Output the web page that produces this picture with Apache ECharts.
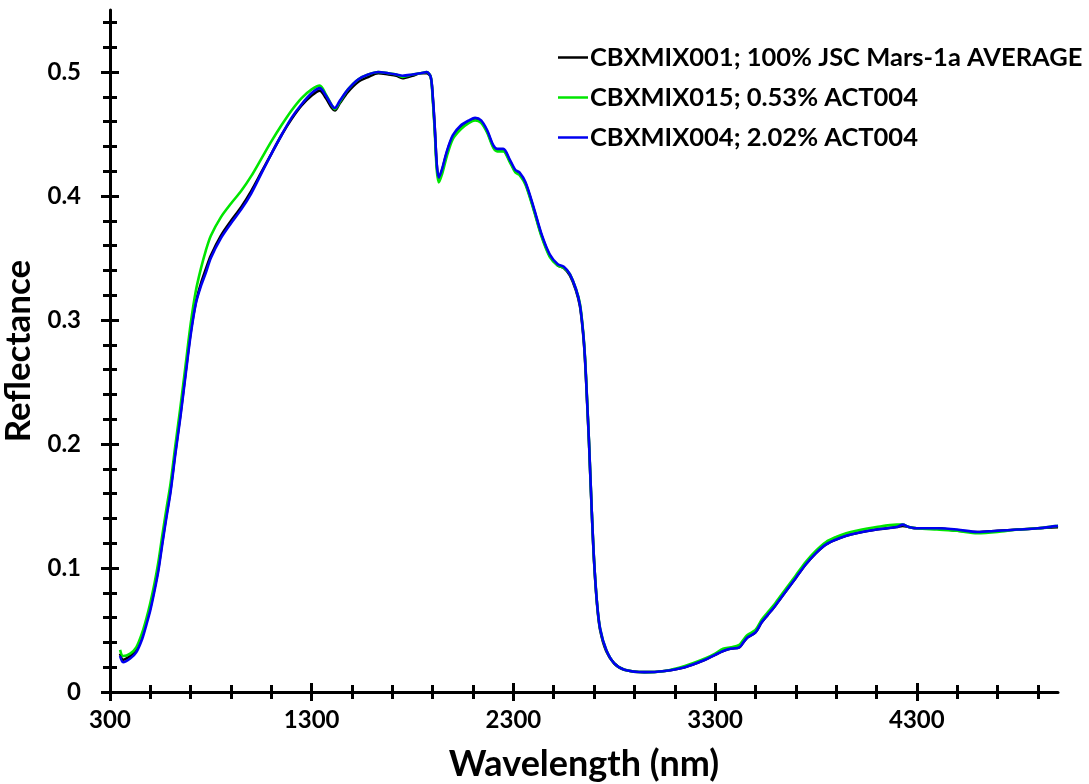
<!DOCTYPE html>
<html>
<head>
<meta charset="utf-8">
<title>Reflectance spectra</title>
<script src="https://cdn.jsdelivr.net/npm/echarts@6/dist/echarts.min.js"></script>
<style>
  html, body { margin: 0; padding: 0; background: #fff; }
  #chart { width: 1089px; height: 784px; }
</style>
</head>
<body>
<div id="chart"></div>
<script>
// Wavelength samples (nm) shared by all three spectra
const wavelengths = [
  350, 365, 400, 430, 460, 480, 500, 520, 540, 560, 580, 600, 625, 650, 675, 700, 725, 750, 775, 800,
  850, 900, 950, 1000, 1050, 1100, 1150, 1200, 1250, 1300, 1340, 1370, 1400, 1415, 1440, 1480, 1530, 1580, 1630, 1680,
  1720, 1750, 1800, 1840, 1870, 1890, 1900, 1910, 1920, 1930, 1945, 1970, 2000, 2040, 2080, 2110, 2140, 2170, 2200, 2220,
  2250, 2280, 2310, 2330, 2360, 2400, 2440, 2480, 2520, 2550, 2580, 2610, 2630, 2645, 2655, 2665, 2675, 2688, 2700, 2715,
  2730, 2760, 2800, 2850, 2950, 3050, 3150, 3250, 3300, 3340, 3380, 3420, 3440, 3460, 3500, 3530, 3560, 3600, 3650, 3700,
  3750, 3800, 3850, 3900, 3950, 4000, 4100, 4200, 4230, 4260, 4300, 4400, 4500, 4600, 4700, 4800, 4900, 5000
];

// CBXMIX001; 100% JSC Mars-1a AVERAGE
const mix001 = [
  0.031, 0.026, 0.029, 0.034, 0.045, 0.056, 0.068, 0.083, 0.100, 0.122, 0.143, 0.163, 0.195, 0.225, 0.258, 0.290, 0.314, 0.329, 0.341, 0.352,
  0.368, 0.380, 0.391, 0.404, 0.419, 0.434, 0.449, 0.462, 0.473, 0.481, 0.485, 0.479, 0.471, 0.469, 0.475, 0.484, 0.492, 0.496, 0.499, 0.498,
  0.497, 0.495, 0.497, 0.499, 0.499, 0.496, 0.480, 0.455, 0.425, 0.414, 0.420, 0.435, 0.448, 0.456, 0.460, 0.462, 0.460, 0.452, 0.440, 0.437,
  0.437, 0.429, 0.420, 0.418, 0.410, 0.390, 0.368, 0.352, 0.344, 0.342, 0.336, 0.324, 0.311, 0.290, 0.268, 0.235, 0.200, 0.147, 0.105, 0.070,
  0.050, 0.033, 0.023, 0.018, 0.016, 0.017, 0.020, 0.026, 0.030, 0.033, 0.035, 0.036, 0.040, 0.044, 0.048, 0.056, 0.062, 0.070, 0.081, 0.092,
  0.103, 0.112, 0.119, 0.123, 0.126, 0.128, 0.131, 0.133, 0.134, 0.133, 0.132, 0.132, 0.130, 0.129, 0.130, 0.131, 0.132, 0.133
];

// CBXMIX015; 0.53% ACT004
const mix015 = [
  0.034, 0.029, 0.031, 0.036, 0.048, 0.059, 0.072, 0.087, 0.105, 0.127, 0.148, 0.168, 0.200, 0.231, 0.264, 0.297, 0.323, 0.341, 0.356, 0.368,
  0.383, 0.394, 0.404, 0.416, 0.430, 0.444, 0.457, 0.469, 0.479, 0.486, 0.489, 0.482, 0.473, 0.470, 0.476, 0.486, 0.494, 0.498, 0.500, 0.499,
  0.498, 0.496, 0.498, 0.499, 0.500, 0.496, 0.478, 0.452, 0.421, 0.411, 0.417, 0.432, 0.446, 0.454, 0.459, 0.461, 0.459, 0.451, 0.439, 0.436,
  0.436, 0.428, 0.419, 0.417, 0.409, 0.389, 0.367, 0.351, 0.344, 0.342, 0.337, 0.325, 0.313, 0.292, 0.270, 0.237, 0.201, 0.148, 0.106, 0.071,
  0.051, 0.034, 0.023, 0.018, 0.016, 0.017, 0.021, 0.027, 0.031, 0.035, 0.036, 0.038, 0.042, 0.046, 0.050, 0.058, 0.064, 0.072, 0.083, 0.094,
  0.105, 0.114, 0.121, 0.125, 0.128, 0.130, 0.133, 0.135, 0.135, 0.133, 0.132, 0.131, 0.130, 0.128, 0.129, 0.131, 0.132, 0.134
];

// CBXMIX004; 2.02% ACT004
const mix004 = [
  0.029, 0.024, 0.027, 0.032, 0.043, 0.054, 0.066, 0.081, 0.098, 0.120, 0.141, 0.161, 0.193, 0.223, 0.256, 0.288, 0.313, 0.327, 0.338, 0.350,
  0.366, 0.378, 0.389, 0.402, 0.418, 0.434, 0.449, 0.463, 0.474, 0.483, 0.487, 0.481, 0.473, 0.471, 0.477, 0.486, 0.494, 0.498, 0.500, 0.499,
  0.498, 0.497, 0.498, 0.499, 0.500, 0.496, 0.481, 0.456, 0.426, 0.415, 0.421, 0.436, 0.449, 0.457, 0.461, 0.463, 0.461, 0.453, 0.441, 0.438,
  0.438, 0.430, 0.421, 0.419, 0.411, 0.391, 0.369, 0.353, 0.345, 0.343, 0.337, 0.325, 0.312, 0.291, 0.269, 0.236, 0.201, 0.148, 0.106, 0.071,
  0.051, 0.034, 0.023, 0.018, 0.016, 0.017, 0.020, 0.026, 0.030, 0.033, 0.035, 0.036, 0.040, 0.044, 0.048, 0.056, 0.062, 0.070, 0.081, 0.092,
  0.103, 0.112, 0.119, 0.123, 0.126, 0.128, 0.131, 0.133, 0.135, 0.133, 0.132, 0.132, 0.131, 0.129, 0.130, 0.131, 0.132, 0.134
];

const seriesNames = [
  'CBXMIX001; 100% JSC Mars-1a AVERAGE',
  'CBXMIX015; 0.53% ACT004',
  'CBXMIX004; 2.02% ACT004'
];
const seriesColors = ['#000000', '#00e600', '#0000f0'];

// Tick positions
const xMajorTicks = [300, 1300, 2300, 3300, 4300];
const xMinorTicks = [500, 700, 900, 1100, 1500, 1700, 1900, 2100, 2500, 2700, 2900, 3100, 3500, 3700, 3900, 4100, 4500, 4700, 4900];
const yMajorTicks = [0, 0.1, 0.2, 0.3, 0.4, 0.5];
const yMinorTicks = [0.02, 0.04, 0.06, 0.08, 0.12, 0.14, 0.16, 0.18, 0.22, 0.24, 0.26, 0.28, 0.32, 0.34, 0.36, 0.38,
                     0.42, 0.44, 0.46, 0.48, 0.52, 0.54];

const FONT = 'Lato';
const X_MIN = 300, X_MAX = 5000, Y_MIN = 0, Y_MAX = 0.55;

function pairs(ys) {
  return wavelengths.map((w, i) => [w, ys[i]]);
}

// An axis that only contributes one set of ticks (outside or inside of the line)
function tickAxis(kind, values, len, inside) {
  return {
    type: 'value',
    min: kind === 'x' ? X_MIN : Y_MIN,
    max: kind === 'x' ? X_MAX : Y_MAX,
    position: kind === 'x' ? 'bottom' : 'left',
    offset: 0,
    axisLine: { show: false },
    axisTick: { show: true, inside: inside, length: len, customValues: values,
                lineStyle: { color: '#000', width: 3 } },
    axisLabel: { show: false },
    splitLine: { show: false }
  };
}

const chart = echarts.init(document.getElementById('chart'), null, { renderer: 'canvas' });

chart.setOption({
  backgroundColor: '#ffffff',
  animation: false,
  textStyle: { fontFamily: FONT },
  grid: { left: 110, right: 31, top: 10, bottom: 92, containLabel: false, outerBoundsMode: 'none' },
  legend: {
    orient: 'vertical',
    left: 553,
    top: 38,
    icon: 'rect',
    itemWidth: 30,
    itemHeight: 2.5,
    itemGap: 11,
    textStyle: { fontFamily: FONT, fontWeight: 'bold', fontSize: 25.5, color: '#000', lineHeight: 29, padding: [0, 0, 0, -3] },
    data: seriesNames
  },
  xAxis: [
    {
      type: 'value',
      min: X_MIN,
      max: X_MAX,
      position: 'bottom',
      name: 'Wavelength (nm)',
      nameLocation: 'middle',
      nameGap: 54,
      nameTextStyle: { fontFamily: FONT, fontWeight: 'bold', fontSize: 36, color: '#000' },
      axisLine: { show: true, onZero: false, lineStyle: { color: '#000', width: 3 } },
      axisTick: { show: true, length: 9, customValues: xMajorTicks, lineStyle: { color: '#000', width: 3 } },
      axisLabel: { show: true, customValues: xMajorTicks, margin: 16, fontFamily: FONT, fontWeight: 'bold',
                   fontSize: 24, color: '#000', formatter: v => String(v) },
      splitLine: { show: false }
    },
    tickAxis('x', xMajorTicks, 9, true),
    tickAxis('x', xMinorTicks, 7, false),
    tickAxis('x', xMinorTicks, 7, true)
  ],
  yAxis: [
    {
      type: 'value',
      min: Y_MIN,
      max: Y_MAX,
      position: 'left',
      name: 'Reflectance',
      nameLocation: 'middle',
      nameGap: 64,
      nameRotate: 90,
      nameTextStyle: { fontFamily: FONT, fontWeight: 'bold', fontSize: 35, color: '#000' },
      axisLine: { show: true, onZero: false, lineStyle: { color: '#000', width: 3 } },
      axisTick: { show: true, length: 9, customValues: yMajorTicks, lineStyle: { color: '#000', width: 3 } },
      axisLabel: { show: true, customValues: yMajorTicks, margin: 29, fontFamily: FONT, fontWeight: 'bold',
                   fontSize: 24, color: '#000',
                   formatter: v => (v === 0 ? '0' : String(Math.round(v * 10) / 10)) },
      splitLine: { show: false }
    },
    tickAxis('y', yMajorTicks, 9, true),
    tickAxis('y', yMinorTicks, 7, false),
    tickAxis('y', yMinorTicks, 7, true)
  ],
  series: [mix001, mix015, mix004].map((ys, i) => ({
    name: seriesNames[i],
    type: 'line',
    xAxisIndex: 0,
    yAxisIndex: 0,
    data: pairs(ys),
    showSymbol: false,
    symbol: 'none',
    smooth: 0.3,
    z: 2 + i,
    lineStyle: { color: seriesColors[i], width: 2.6 },
    itemStyle: { color: seriesColors[i] },
    emphasis: { disabled: true }
  }))
});
</script>
</body>
</html>
